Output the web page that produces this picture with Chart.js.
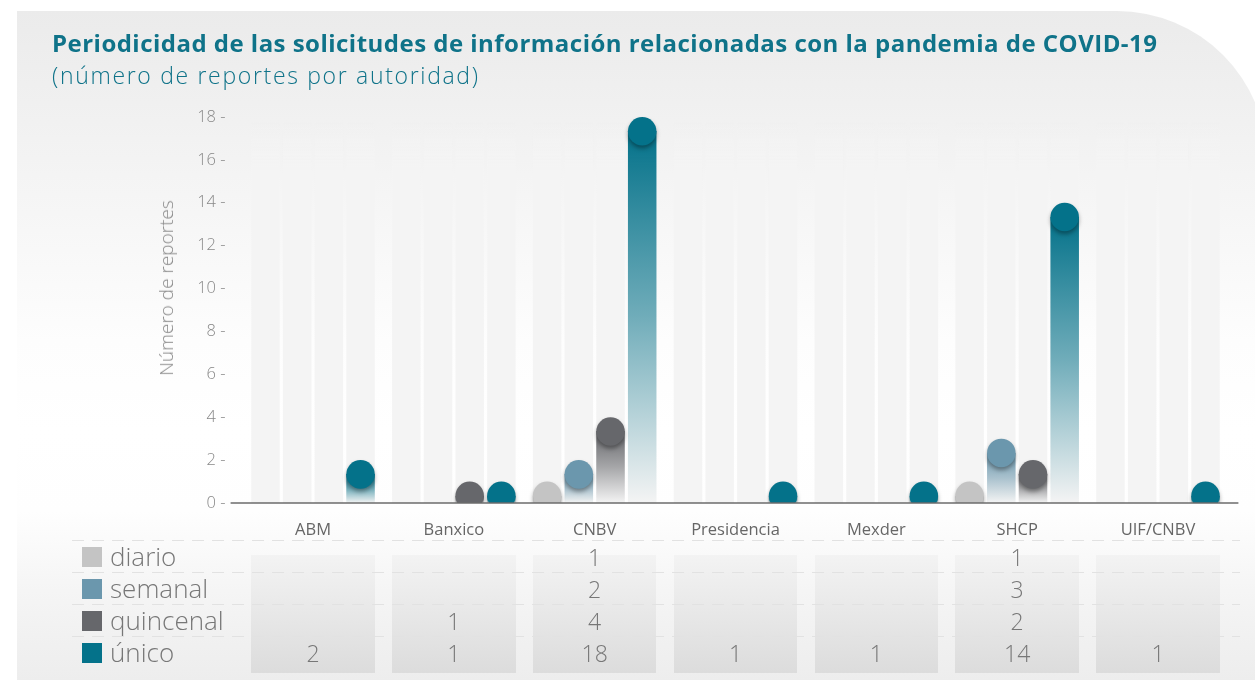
<!DOCTYPE html>
<html lang="es">
<head>
<meta charset="utf-8">
<script src="https://cdn.jsdelivr.net/npm/chart.js@4"></script>
<style>
  body { margin:0; width:1255px; height:683px; overflow:hidden; background:#fff; position:relative; font-family:"Open Sans", sans-serif; }
  .abs { position:absolute; }
  #panel { left:17px; top:11px; width:1250px; height:669px; border-top-right-radius:150px;
    background:linear-gradient(to bottom,#ebebeb 0px,#f1f1f1 110px,#f7f7f7 220px,#fdfdfd 330px,#ffffff 420px,#fefefe 500px,#f5f5f5 580px,#ededed 669px); }
  #title { left:52px; top:26px; font-size:24px; font-weight:700; color:#0f7389; white-space:nowrap; }
  #subtitle { left:52px; top:59px; font-size:23px; font-weight:300; color:#0f7389; white-space:nowrap; }
  #ytitle { left:166px; top:288px; font-size:19px; font-weight:300; color:#888; white-space:nowrap;
    transform:translate(-50%,-50%) rotate(-90deg); }
  .cell { top:555px; height:118px; background:linear-gradient(to bottom,#f3f3f3,#dcdcdc); }
  .dash { left:72px; width:1168px; height:1px;
    background:repeating-linear-gradient(to right,#e2e2e2 0 12px,transparent 12px 20px); }
  .leg { left:82px; font-size:26px; font-weight:300; color:#777; line-height:30px; white-space:nowrap; }
  .leg i { display:inline-block; width:20px; height:20px; margin-right:8px; vertical-align:-1px; }
  .num { font-size:23px; font-weight:300; color:#777; transform:translate(-50%,-50%); white-space:nowrap; }
  canvas { position:absolute; left:0; top:0; }
</style>
</head>
<body>
<div id="panel" class="abs"></div>
<div id="cells"></div>
<canvas id="chart" width="1255" height="683"></canvas>
<div id="title" class="abs">Periodicidad de las solicitudes de información relacionadas con la pandemia de COVID-19</div>
<div id="subtitle" class="abs">(número de reportes por autoridad)</div>
<div id="ytitle" class="abs">Número de reportes</div>
<div id="tabla"></div>
<script>
// datos
const categorias = ["ABM", "Banxico", "CNBV", "Presidencia", "Mexder", "SHCP", "UIF/CNBV"];
const diario    = [null, null, 1, null, null, 1, null];
const semanal   = [null, null, 2, null, null, 3, null];
const quincenal = [null, 1, 4, null, null, 2, null];
const unico     = [2, 1, 18, 1, 1, 14, 1];
const yTicks    = [0, 2, 4, 6, 8, 10, 12, 14, 16, 18];

const series = [
  { nombre: "diario",    datos: diario,    rgb: [196, 196, 196] },
  { nombre: "semanal",   datos: semanal,   rgb: [107, 151, 173] },
  { nombre: "quincenal", datos: quincenal, rgb: [102, 103, 107] },
  { nombre: "único",     datos: unico,     rgb: [4, 114, 138] }
];
const rgba = (c, a) => `rgba(${c[0]},${c[1]},${c[2]},${a})`;

// ajusta el ancho del texto con letter-spacing
function ajustar(id, ancho) {
  const el = document.getElementById(id);
  const w = el.getBoundingClientRect().width;
  const n = el.textContent.length - 1;
  el.style.letterSpacing = ((ancho - w) / n) + "px";
}
ajustar("title", 1105);
ajustar("subtitle", 426);

// relleno degradado: empieza bajo el círculo y se desvanece hacia la base
function relleno(c) {
  return ctx => {
    const chart = ctx.chart;
    if (!chart.chartArea || ctx.type !== "data" || ctx.parsed == null) return rgba(c, 0);
    const y = chart.scales.y;
    const top = y.getPixelForValue(ctx.parsed.y), base = y.getPixelForValue(0);
    const h = base - top;
    const meta = chart.getDatasetMeta(ctx.datasetIndex).data[ctx.dataIndex];
    const r = meta && isFinite(meta.width) ? meta.width / 2 : 14;
    if (!isFinite(top) || h <= r + 1) return rgba(c, 0);
    const t = r / h;
    const g = chart.ctx.createLinearGradient(0, top, 0, base);
    g.addColorStop(0, rgba(c, 0));
    g.addColorStop(t * 0.999, rgba(c, 0));
    g.addColorStop(t, rgba(c, 1));
    g.addColorStop(t + (1 - t) * 0.5, rgba(c, 0.55));
    g.addColorStop(1, rgba(c, 0));
    return g;
  };
}

const paletas = {
  id: "paletas",
  beforeDatasetsDraw(chart) {
    const { ctx, chartArea: a } = chart;
    ctx.save();
    const g = ctx.createLinearGradient(0, a.top + 5, 0, a.top + 50);
    g.addColorStop(0, "rgba(244,244,244,0)");
    g.addColorStop(1, "rgba(244,244,244,1)");
    ctx.fillStyle = g;
    chart.data.datasets.forEach((d, i) => {
      chart.getDatasetMeta(i).data.forEach(el => {
        if (!isFinite(el.x) || !isFinite(el.width)) return;
        ctx.fillRect(el.x - el.width / 2, a.top + 5, el.width, a.bottom - a.top - 5);
      });
    });
    ctx.restore();
  },
  afterDatasetsDraw(chart) {
    const { ctx, chartArea: a } = chart;
    ctx.save();
    ctx.beginPath();
    ctx.rect(a.left - 20, a.top - 20, a.right - a.left + 40, a.bottom - a.top + 20);
    ctx.clip();
    chart.data.datasets.forEach((d, i) => {
      const c = series[i].rgb;
      chart.getDatasetMeta(i).data.forEach((el, j) => {
        if (d.data[j] == null) return;
        const r = el.width / 2;
        ctx.save();
        ctx.shadowColor = "rgba(0,0,0,0.35)";
        ctx.shadowBlur = 4;
        ctx.shadowOffsetY = 3;
        ctx.fillStyle = rgba(c, 1);
        ctx.beginPath();
        ctx.arc(el.x, el.y + r, r, 0, Math.PI * 2);
        ctx.fill();
        ctx.restore();
      });
    });
    ctx.restore();
    // línea base
    const y0 = chart.scales.y.getPixelForValue(0);
    ctx.save();
    ctx.strokeStyle = "#6b6b6b";
    ctx.lineWidth = 1.5;
    ctx.beginPath();
    ctx.moveTo(a.left - 12, y0);
    ctx.lineTo(a.right + 10, y0);
    ctx.stroke();
    ctx.restore();
  }
};

Chart.defaults.font.family = "'Open Sans', sans-serif";

const chart = new Chart(document.getElementById("chart"), {
  type: "bar",
  data: {
    labels: categorias,
    datasets: series.map(s => ({
      label: s.nombre,
      data: s.datos,
      backgroundColor: relleno(s.rgb),
      borderWidth: 0,
      categoryPercentage: 0.9,
      barPercentage: 0.9
    }))
  },
  options: {
    responsive: false,
    animation: false,
    devicePixelRatio: 1,
    layout: { padding: { left: 140, right: 26.6, top: 117, bottom: 140 } },
    plugins: { legend: { display: false }, tooltip: { enabled: false } },
    scales: {
      x: {
        grid: { display: false },
        border: { display: false },
        ticks: { color: "#666", font: { size: 16.5 }, padding: 9, maxRotation: 0 },
        afterFit: s => { s.height = 40; }
      },
      y: {
        min: 0,
        max: 18,
        afterBuildTicks: s => { s.ticks = yTicks.map(v => ({ value: v })); },
        grid: { display: false },
        border: { display: false },
        ticks: { color: "#888", font: { size: 16.5, weight: "300" }, padding: 9, callback: v => v + " -" },
        afterFit: s => { s.width = 102.6; }
      }
    }
  },
  plugins: [paletas]
});

// tabla de datos bajo el gráfico
const filas = [557, 589, 621, 653];
const cells = document.getElementById("cells");
const tabla = document.getElementById("tabla");
const m0 = chart.getDatasetMeta(0).data, m3 = chart.getDatasetMeta(3).data;
categorias.forEach((cat, i) => {
  const izq = m0[i].x - m0[i].width / 2, der = m3[i].x + m3[i].width / 2;
  const d = document.createElement("div");
  d.className = "abs cell";
  d.style.left = izq + "px";
  d.style.width = (der - izq) + "px";
  cells.appendChild(d);
});
[540, 572, 604, 636].forEach(y => {
  const d = document.createElement("div");
  d.className = "abs dash";
  d.style.top = y + "px";
  tabla.appendChild(d);
});
series.forEach((s, k) => {
  const l = document.createElement("div");
  l.className = "abs leg";
  l.style.top = (filas[k] - 16) + "px";
  l.innerHTML = `<i style="background:${rgba(s.rgb, 1)}"></i>${s.nombre}`;
  tabla.appendChild(l);
  s.datos.forEach((v, i) => {
    if (v == null) return;
    const n = document.createElement("div");
    n.className = "abs num";
    n.style.left = chart.scales.x.getPixelForValue(i) + "px";
    n.style.top = filas[k] + "px";
    n.textContent = v;
    tabla.appendChild(n);
  });
});
</script>
</body>
</html>
